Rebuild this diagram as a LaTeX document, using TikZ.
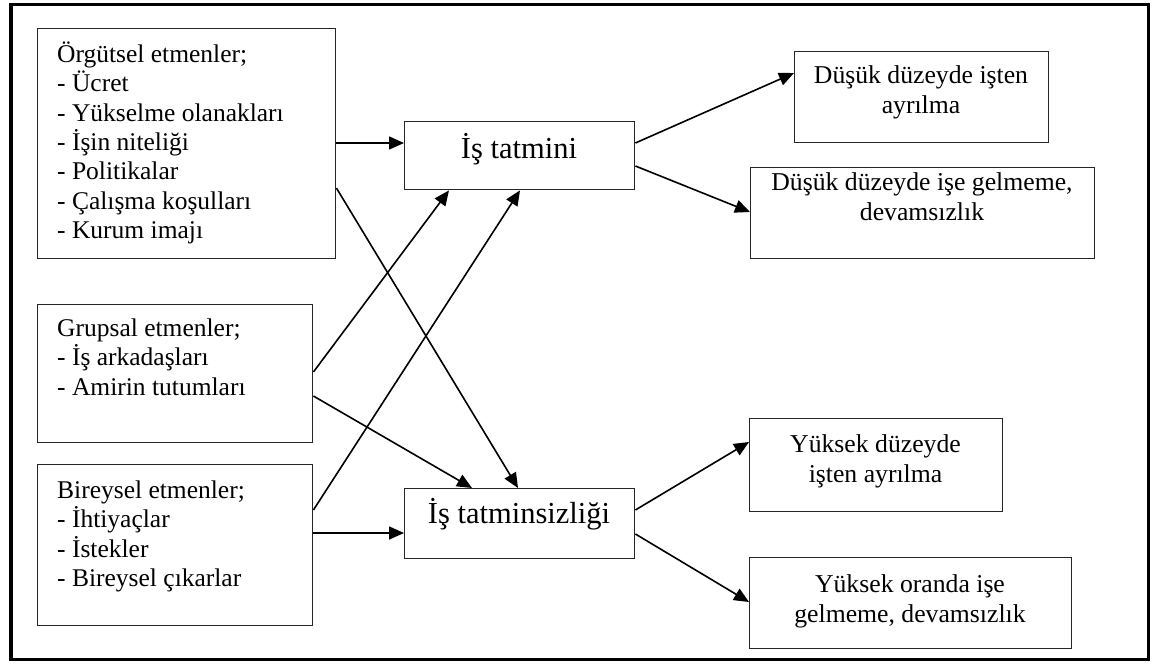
\documentclass[tikz,border=0pt]{standalone}
\usepackage{fontspec}
\setmainfont{Liberation Serif}
\usetikzlibrary{arrows.meta,calc}
\newcommand\mytopstrut{\rule{0pt}{24pt}}
\newcommand\myleftfont{\fontsize{25.5}{29.4}\selectfont}
\newcommand\myrightfont{\fontsize{25.7}{30}\selectfont}
\newcommand\mymidfont{\fontsize{30.5}{34}\selectfont}
\begin{document}
\begin{tikzpicture}[x=1pt,y=-1pt,
  box/.style={draw=black!85, line width=1.4pt, rectangle, inner sep=0pt, anchor=north west},
  lefttxt/.style={anchor=north west, inner sep=0pt, align=left, font=\myleftfont},
  righttxt/.style={anchor=north, inner sep=0pt, align=center, font=\myrightfont},
  midtxt/.style={anchor=base, inner sep=0pt, font=\mymidfont},
  arr/.style={line width=1.6pt, -{Triangle[length=15pt,width=13pt]}}]
\useasboundingbox (0,0) rectangle (1154,664);
\fill[white] (0,0) rectangle (1154,664);
\draw[line width=3.5pt] (11,4.3) rectangle (1148.5,659.5);

% left boxes
\node[box, minimum width=298pt, minimum height=230pt] (A) at (37,28) {};
\node[box, minimum width=275pt, minimum height=138pt] (B) at (37,304) {};
\node[box, minimum width=275pt, minimum height=161pt] (C) at (37,464) {};
% middle boxes
\node[box, minimum width=230pt, minimum height=68pt] (T) at (404,121) {};
\node[box, minimum width=230pt, minimum height=70pt] (U) at (404,488) {};
% right boxes
\node[box, minimum width=254pt, minimum height=91pt] (R1) at (794,51) {};
\node[box, minimum width=344pt, minimum height=91pt] (R2) at (750,167) {};
\node[box, minimum width=253pt, minimum height=93pt] (R3) at (749,418) {};
\node[box, minimum width=322pt, minimum height=91pt] (R4) at (749,557) {};

% texts
\node[lefttxt] (At) at (57,38) {\mytopstrut Örgütsel etmenler;\\- Ücret\\- Yükselme olanakları\\- İşin niteliği\\- Politikalar\\- Çalışma koşulları\\- Kurum imajı};
\node[lefttxt] (Bt) at (57,312) {\mytopstrut Grupsal etmenler;\\- İş arkadaşları\\- Amirin tutumları};
\node[lefttxt] (Ct) at (57,474) {\mytopstrut Bireysel etmenler;\\- İhtiyaçlar\\- İstekler\\- Bireysel çıkarlar};
\node[midtxt] (Tt) at (519,158) {İş tatmini};
\node[midtxt] (Ut) at (519,523) {İş tatminsizliği};
\node[righttxt] (R1t) at (921,59) {\mytopstrut Düşük düzeyde işten\\ayrılma};
\node[righttxt] (R2t) at (922,166) {\mytopstrut Düşük düzeyde işe gelmeme,\\devamsızlık};
\node[righttxt] (R3t) at (875.5,428) {\mytopstrut Yüksek düzeyde\\işten ayrılma};
\node[righttxt] (R4t) at (910,568) {\mytopstrut Yüksek oranda işe\\gelmeme, devamsızlık};

% connectors
\draw[arr] ($(A.north east)+(0,115)$) -- ($(T.north west)+(0,22)$);
\draw[arr] ($(A.north east)+(0,160)$) -- ($(U.north west)+(114,0)$);
\draw[arr] ($(B.north east)+(0,68)$) -- ($(T.south west)+(45,0)$);
\draw[arr] ($(B.north east)+(0,92)$) -- ($(U.north west)+(68,0)$);
\draw[arr] ($(C.north east)+(0,46)$) -- ($(T.south west)+(116,0)$);
\draw[arr] ($(C.north east)+(0,69)$) -- ($(U.north west)+(0,45)$);
\draw[arr] ($(T.north east)+(0,22)$) -- ($(R1.north west)+(0,22)$);
\draw[arr] ($(T.north east)+(0,45)$) -- ($(R2.north west)+(0,45)$);
\draw[arr] ($(U.north east)+(0,22)$) -- ($(R3.north west)+(0,24)$);
\draw[arr] ($(U.north east)+(0,46)$) -- ($(R4.north west)+(0,45)$);
\end{tikzpicture}
\end{document}
